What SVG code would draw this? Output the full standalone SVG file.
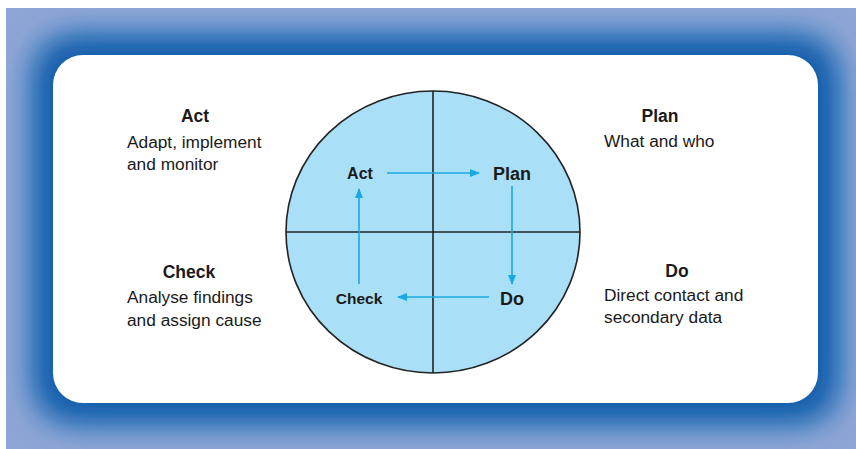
<svg xmlns="http://www.w3.org/2000/svg" width="856" height="449" viewBox="0 0 856 449">
<style>
.head{font-family:"Liberation Sans",Arial,sans-serif;font-weight:bold;font-size:17.5px;fill:#1a1a1a;text-anchor:middle}
.body{font-family:"Liberation Sans",Arial,sans-serif;font-size:17.3px;fill:#1a1a1a}
.in{font-family:"Liberation Sans",Arial,sans-serif;font-weight:bold;fill:#1a1a1a;text-anchor:middle}
.arr{stroke:#1aa8e2;stroke-width:1.6;fill:none;marker-end:url(#ah)}
</style>
<defs>
<clipPath id="fc"><rect x="6" y="8" width="850" height="441"/></clipPath>
<filter id="bl" x="-20%" y="-20%" width="140%" height="140%"><feGaussianBlur stdDeviation="16"/></filter>
<marker id="ah" viewBox="0 0 10 8" refX="9" refY="4" markerWidth="10" markerHeight="8" markerUnits="userSpaceOnUse" orient="auto">
<path d="M0,0 L10,4 L0,8 Z" fill="#1aa8e2"/>
</marker>
</defs>
<g id="frame">
<rect x="6" y="8" width="850" height="441" fill="#8ea6d6"/>
<g clip-path="url(#fc)">
<rect x="36" y="38" width="800" height="383" rx="34" fill="#0a5dab" filter="url(#bl)"/>
<rect x="46" y="48" width="779" height="362" rx="32" fill="#0a5dab" filter="url(#bl)" opacity="0.8"/>
</g>
<rect x="53" y="55" width="765" height="348" rx="30" fill="#ffffff"/>
</g>
<g id="circle">
<ellipse cx="433" cy="232" rx="147" ry="141" fill="#aadff8" stroke="#222" stroke-width="1.6"/>
<line x1="433" y1="91" x2="433" y2="373" stroke="#222" stroke-width="1.6"/>
<line x1="286" y1="232" x2="580" y2="232" stroke="#222" stroke-width="1.6"/>
</g>
<g id="connectors">
<line class="arr" x1="387" y1="173" x2="479" y2="173"/>
<line class="arr" x1="512" y1="186" x2="512" y2="284"/>
<line class="arr" x1="489" y1="297" x2="398" y2="297"/>
<line class="arr" x1="359" y1="284" x2="359" y2="189"/>
</g>
<g id="in-act"><text class="in" x="360" y="179" font-size="16">Act</text></g>
<g id="in-plan"><text class="in" x="512" y="180" font-size="18">Plan</text></g>
<g id="in-do"><text class="in" x="512" y="305" font-size="18">Do</text></g>
<g id="in-check"><text class="in" x="359" y="304" font-size="15.5">Check</text></g>
<g id="act">
<text class="head" x="195" y="122">Act</text>
<text class="body" x="127" y="148">Adapt, implement</text>
<text class="body" x="127" y="170">and monitor</text>
</g>
<g id="check">
<text class="head" x="189" y="278">Check</text>
<text class="body" x="127" y="303">Analyse findings</text>
<text class="body" x="127" y="326">and assign cause</text>
</g>
<g id="plan">
<text class="head" x="660" y="122">Plan</text>
<text class="body" x="604" y="147">What and who</text>
</g>
<g id="do">
<text class="head" x="677" y="277">Do</text>
<text class="body" x="604" y="301">Direct contact and</text>
<text class="body" x="604" y="323">secondary data</text>
</g>
</svg>
